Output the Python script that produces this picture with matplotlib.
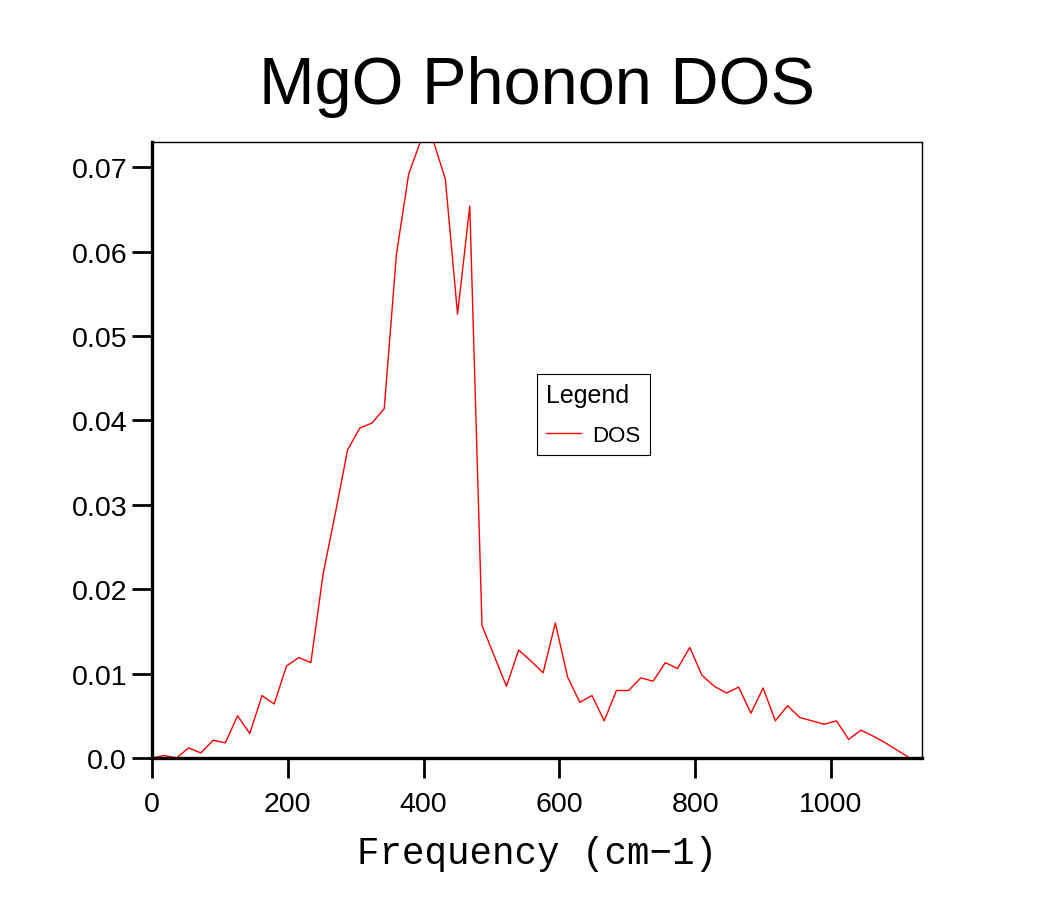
import matplotlib.pyplot as plt
from matplotlib.ticker import FixedLocator, FixedFormatter

# --------------------------------------------------
# Data
# --------------------------------------------------
freq = [0, 18, 36, 54, 72, 90, 108, 126, 144, 162,
        180, 198, 216, 234, 252, 270, 288, 306, 324, 342,
        360, 378, 396, 414, 432, 450, 468, 486, 504, 522,
        540, 558, 576, 594, 612, 630, 648, 666, 684, 702,
        720, 738, 756, 774, 792, 810, 828, 846, 864, 882,
        900, 918, 936, 954, 972, 990, 1008, 1026, 1044, 1062,
        1080, 1098, 1116, 1134]
dos = [0.0, 0.0003, 0.0, 0.0012, 0.0006, 0.0021, 0.0018, 0.0050, 0.0029, 0.0074,
       0.0064, 0.0109, 0.0119, 0.0113, 0.0218, 0.0290, 0.0365, 0.0391, 0.0397, 0.0414,
       0.0597, 0.0692, 0.0732, 0.0732, 0.0686, 0.0526, 0.0654, 0.0157, 0.0121, 0.0085,
       0.0128, 0.0115, 0.0101, 0.0160, 0.0096, 0.0066, 0.0074, 0.0044, 0.0080, 0.0080,
       0.0095, 0.0091, 0.0113, 0.0106, 0.0131, 0.0098, 0.0085, 0.0077, 0.0084, 0.0053,
       0.0083, 0.0044, 0.0062, 0.0048, 0.0044, 0.0040, 0.0044, 0.0022, 0.0033, 0.0026,
       0.0018, 0.0009, 0.0, 0.0]

x_ticks = [0, 200, 400, 600, 800, 1000]
x_ticklabels = ['0', '200', '400', '600', '800', '1000']
y_ticks = [0.0, 0.01, 0.02, 0.03, 0.04, 0.05, 0.06, 0.07]
y_ticklabels = ['0.0', '0.01', '0.02', '0.03', '0.04', '0.05', '0.06', '0.07']

# --------------------------------------------------
# Figure
# --------------------------------------------------
plt.rcParams['font.family'] = ['Liberation Sans', 'DejaVu Sans']

fig = plt.figure(figsize=(10.6, 9.04), dpi=100)
ax = fig.add_axes([0.1434, 0.1604, 0.7264, 0.6814])

ax.plot(freq, dos, color='red', linewidth=1.0, label='DOS')

ax.set_xlim(0, 1134)
ax.set_ylim(0, 0.0730)

ax.xaxis.set_major_locator(FixedLocator(x_ticks))
ax.xaxis.set_major_formatter(FixedFormatter(x_ticklabels))
ax.yaxis.set_major_locator(FixedLocator(y_ticks))
ax.yaxis.set_major_formatter(FixedFormatter(y_ticklabels))

ax.tick_params(axis='both', direction='out', length=14.5, width=2.0,
               labelsize=20.5, color='black')
ax.tick_params(axis='x', pad=9)
ax.tick_params(axis='y', pad=3.5)

for side in ['left', 'bottom']:
    ax.spines[side].set_linewidth(2.4)
for side in ['top', 'right']:
    ax.spines[side].set_linewidth(1.0)

# --------------------------------------------------
# Titles
# --------------------------------------------------
ax.set_title('MgO Phonon DOS', fontsize=48, pad=28)
ax.set_xlabel('Frequency (cm\u22121)', fontsize=27,
              family=['Liberation Mono', 'DejaVu Sans Mono'], labelpad=13)

# --------------------------------------------------
# Legend
# --------------------------------------------------
leg = ax.legend(loc='upper left', bbox_to_anchor=(0.5, 0.623), borderaxespad=0,
                title='Legend', fontsize=16, title_fontsize=18,
                fancybox=False, framealpha=1, edgecolor='black',
                handlelength=1.6, handletextpad=0.5, borderpad=0.4,
                labelspacing=0.8, alignment='left')
leg.get_frame().set_linewidth(0.8)

plt.savefig('out.png', dpi=100)
